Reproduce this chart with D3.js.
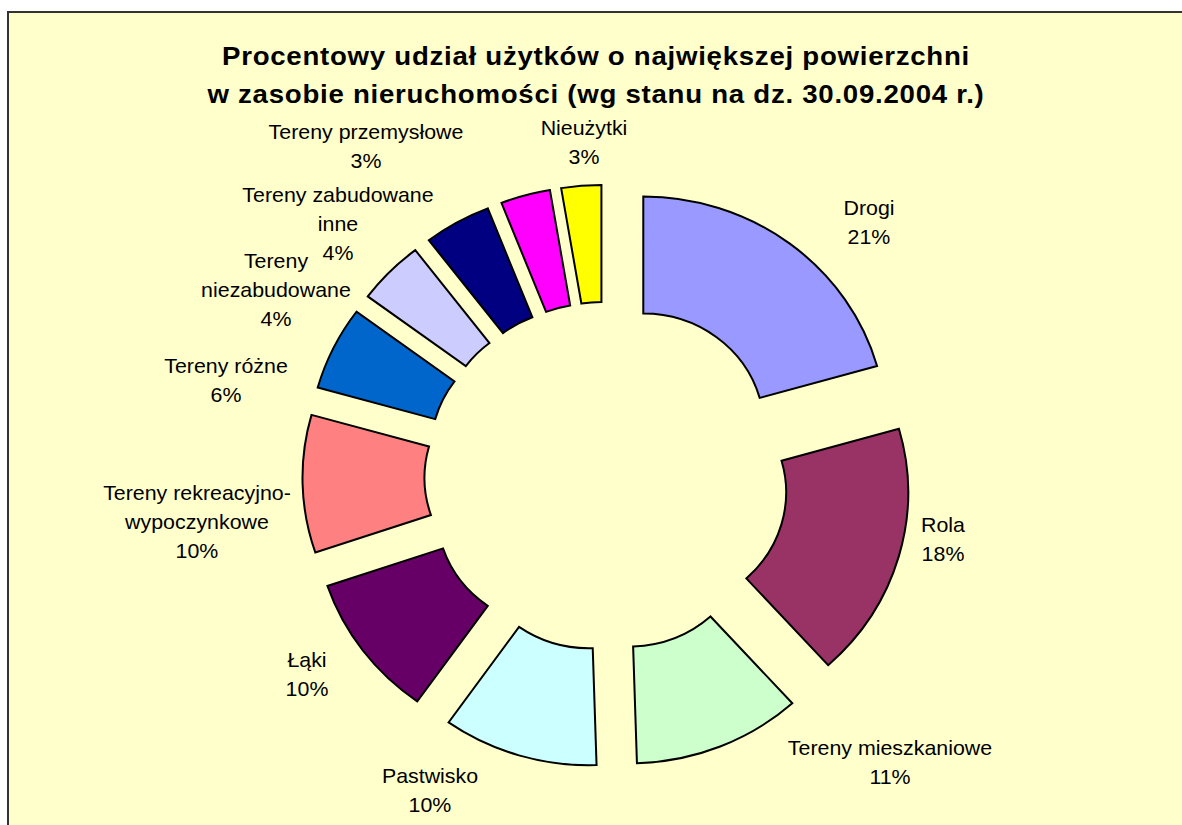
<!DOCTYPE html>
<html>
<head>
<meta charset="utf-8">
<script src="https://cdn.jsdelivr.net/npm/d3@7"></script>
<style>
    body { margin: 0; background: #fff; }
    svg text { font-family: "Liberation Sans", Arial, sans-serif; fill: #000; }
</style>
</head>
<body>
<div id="chart"></div>
<script>
// Data: area share by land use (percent), clockwise from 12 o'clock
var categories = ["Drogi", "Rola", "Tereny mieszkaniowe", "Pastwisko", "Łąki",
    "Tereny rekreacyjno-wypoczynkowe", "Tereny różne", "Tereny niezabudowane",
    "Tereny zabudowane inne", "Tereny przemysłowe", "Nieużytki"];
var values = [20.6, 17.7, 11.2, 10.3, 10.0, 9.55, 5.8, 4.45, 4.45, 3.3, 2.65];
var labelLines = [["Drogi"], ["Rola"], ["Tereny mieszkaniowe"], ["Pastwisko"], ["Łąki"],
    ["Tereny rekreacyjno-", "wypoczynkowe"], ["Tereny różne"], ["Tereny", "niezabudowane"],
    ["Tereny zabudowane", "inne"], ["Tereny przemysłowe"], ["Nieużytki"]];
var colors = ["#9999FF", "#993366", "#CCFFCC", "#CCFFFF", "#660066",
    "#FF8080", "#0066CC", "#CCCCFF", "#000080", "#FF00FF", "#FFFF00"];
var titleLines = ["Procentowy udział użytków o największej powierzchni",
    "w zasobie nieruchomości (wg stanu na dz. 30.09.2004 r.)"];

// Layout (screen px). The original picture is stretched a bit horizontally.
var width = 1182, height = 825;
var sx = 1.043;
var cx = 606.5, cy = 476.2,
    outerR = 233, innerR = 116,
    explode = 58.5;
// label anchors (centre x, first baseline y), dragged by hand in the original
var labelPos = [[869, 215], [943, 532], [890, 755], [430, 783], [307, 667],
    [197, 500], [226, 373], [276, 268], [338, 202], [366, 139], [584, 135]];
var lineH = 28.8;

var svg = d3.select("#chart")
    .append("svg")
    .attr("width", width)
    .attr("height", height);

// chart area
svg.append("rect")
    .attr("x", 8)
    .attr("y", 12)
    .attr("width", width + 10)
    .attr("height", height + 10)
    .style("fill", "#FFFFCC")
    .style("stroke", "#333")
    .style("stroke-width", 2);

var root = svg.append("g").attr("transform", "scale(" + sx + ",1)");

// title
root.append("g")
    .selectAll("text")
    .data(titleLines)
    .enter()
    .append("text")
    .attr("x", 596 / sx)
    .attr("y", (d, i) => 65 + i * 38.5)
    .attr("text-anchor", "middle")
    .style("font-size", "26.5px")
    .style("font-weight", "bold")
    .style("letter-spacing", "0.7px")
    .text(d => d);

// doughnut
var pie = d3.pie().sort(null).value(d => d);
var arcs = pie(values);
var arc = d3.arc().innerRadius(innerR).outerRadius(outerR);

var ring = root.append("g")
    .attr("transform", "translate(" + (cx / sx) + "," + cy + ")");

ring.selectAll(".slice")
    .data(arcs)
    .enter()
    .append("path")
    .attr("class", "slice")
    .attr("d", arc)
    .attr("transform", d => {
        var mid = (d.startAngle + d.endAngle) / 2;
        return "translate(" + (explode * Math.sin(mid)) + "," + (-explode * Math.cos(mid)) + ")";
    })
    .style("fill", (d, i) => colors[i])
    .style("stroke", "#000")
    .style("stroke-width", 2)
    .attr("vector-effect", "non-scaling-stroke")
    .style("stroke-linejoin", "miter");

// data labels
var total = d3.sum(values);
var pct = v => Math.round(v / total * 100) + "%";

var labels = root.append("g")
    .selectAll("text")
    .data(arcs)
    .enter()
    .append("text")
    .attr("text-anchor", "middle")
    .style("font-size", "20.5px");

labels.each(function (d, i) {
    var lines = labelLines[i].concat([pct(d.value)]);
    d3.select(this).selectAll("tspan")
        .data(lines)
        .enter()
        .append("tspan")
        .attr("x", labelPos[i][0] / sx)
        .attr("y", (l, j) => labelPos[i][1] + j * lineH)
        .text(l => l);
});
</script>
</body>
</html>
